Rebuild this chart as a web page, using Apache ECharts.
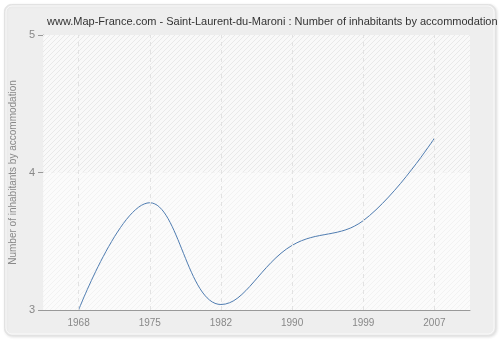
<!DOCTYPE html>
<html><head><meta charset="utf-8">
<script src="https://cdn.jsdelivr.net/npm/echarts@6/dist/echarts.min.js"></script>
<style>html,body{margin:0;padding:0;background:#fff;}#c{width:500px;height:340px;}</style>
</head><body><div id="c"></div>
<script>
var titleText = 'www.Map-France.com - Saint-Laurent-du-Maroni : Number of inhabitants by accommodation';
var yAxisName = 'Number of inhabitants by accommodation';
var years = ['1968', '1975', '1982', '1990', '1999', '2007'];
var values = [3.0, 3.78, 3.04, 3.47, 3.65, 4.25];
var yTicks = [3, 4, 5];

function hatch(bg, fg) {
  var c = document.createElement('canvas');
  c.width = 5; c.height = 5;
  var g = c.getContext('2d');
  g.fillStyle = bg; g.fillRect(0, 0, 5, 5);
  g.strokeStyle = fg; g.lineWidth = 1;
  g.beginPath();
  g.moveTo(-1, 6); g.lineTo(6, -1);
  g.moveTo(-1, 1); g.lineTo(1, -1);
  g.moveTo(4, 6); g.lineTo(6, 4);
  g.stroke();
  return {image: c, repeat: 'repeat'};
}

var chart = echarts.init(document.getElementById('c'), null, {renderer: 'canvas'});
var font = 'Liberation Sans';
chart.setOption({
  animation: false,
  backgroundColor: '#ffffff',
  graphic: [{
    type: 'rect', z: -10, silent: true,
    shape: {x: 4.5, y: 4.5, width: 491, height: 331, r: 7},
    style: {fill: '#eeeeee', stroke: '#e2e2e2', lineWidth: 1, shadowColor: 'rgba(0,0,0,0.12)', shadowBlur: 3, shadowOffsetX: 1, shadowOffsetY: 1}
  }, {
    type: 'rect', z: -9, silent: true,
    shape: {x: 6, y: 6, width: 488, height: 328, r: 6},
    style: {fill: 'none', stroke: '#fafafa', lineWidth: 1}
  }],
  title: {
    text: titleText, left: 42, top: 11,
    textStyle: {fontFamily: font, fontSize: 11, fontWeight: 'normal', color: '#333'}
  },
  grid: {left: 40, right: 30, top: 35, bottom: 30, show: true, backgroundColor: '#ffffff', borderWidth: 0},
  xAxis: {
    type: 'category', data: years, boundaryGap: true,
    axisLine: {lineStyle: {color: '#999', width: 1}},
    axisTick: {alignWithLabel: true, length: 5, lineStyle: {color: '#999'}},
    axisLabel: {color: '#888', fontFamily: font, fontSize: 10, margin: 8},
    splitLine: {show: false}
  },
  yAxis: {
    type: 'value', min: yTicks[0], max: yTicks[yTicks.length - 1], interval: 1,
    name: yAxisName, nameLocation: 'middle', nameGap: 24,
    nameTextStyle: {color: '#888', fontFamily: font, fontSize: 10},
    axisLine: {show: true, lineStyle: {color: '#999', width: 1}},
    axisTick: {show: true, length: 5, lineStyle: {color: '#999'}},
    axisLabel: {color: '#888', fontFamily: font, fontSize: 11, margin: 8},
    splitLine: {show: true, lineStyle: {color: '#e2e2e2', type: [4, 4]}}
  },
  series: [{
    type: 'line', data: values, smooth: 0.4, symbol: 'none',
    lineStyle: {color: '#4f7cb0', width: 1},
    markArea: {
      silent: true,
      data: [
        [{yAxis: yTicks[1], itemStyle: {color: hatch('#f9f9f9', '#e9e9e9')}}, {yAxis: yTicks[2]}],
        [{yAxis: yTicks[0], itemStyle: {color: hatch('#fbfbfb', '#f2f2f2')}}, {yAxis: yTicks[1]}]
      ]
    },
    markLine: {
      silent: true, symbol: 'none', label: {show: false},
      lineStyle: {color: '#e2e2e2', type: [4, 4], width: 1},
      data: years.map(function (y) { return {xAxis: y}; })
    }
  }]
});
</script></body></html>
